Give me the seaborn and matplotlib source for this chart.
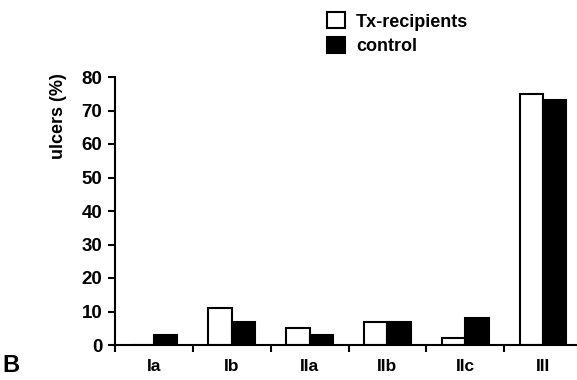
import matplotlib
matplotlib.use("Agg")
import matplotlib.pyplot as plt
import seaborn as sns
import pandas as pd
from matplotlib.patches import Patch

categories = ["Ia", "Ib", "IIa", "IIb", "IIc", "III"]
tx_values = [0, 11, 5, 7, 2, 75]
control_values = [3, 7, 3, 7, 8, 73]
series = ["Tx-recipients", "control"]
yticks = [0, 10, 20, 30, 40, 50, 60, 70, 80]

df = pd.DataFrame({
    "category": categories * 2,
    "value": tx_values + control_values,
    "group": [series[0]] * len(categories) + [series[1]] * len(categories),
})

sns.set_style("ticks")
plt.rcParams["font.family"] = ["Liberation Sans", "DejaVu Sans"]
plt.rcParams["font.weight"] = "bold"
plt.rcParams["text.color"] = "black"
plt.rcParams["xtick.color"] = "black"
plt.rcParams["ytick.color"] = "black"
plt.rcParams["axes.labelcolor"] = "black"

fig = plt.figure(figsize=(5.77, 3.80), dpi=100)
ax = fig.add_axes([115/577, 1-345/380, 467/577, 268/380])

sns.barplot(data=df, x="category", y="value", hue="group", order=categories,
            hue_order=series, palette={series[0]: "white", series[1]: "black"},
            edgecolor="black", linewidth=1.5, width=0.6, ax=ax, legend=False)

ax.set_ylim(0, 80)
ax.set_xlim(-0.5, 5.5)
ax.set_yticks(yticks)
ax.set_yticklabels([str(v) for v in yticks], fontsize=13.5, fontweight="bold")
ax.set_xticks(range(len(categories)))
ax.set_xticklabels(categories, fontsize=12.5, fontweight="bold")
ax.set_xticks([i - 0.5 for i in range(len(categories) + 1)], minor=True)
ax.tick_params(axis="x", which="major", length=0, pad=10)
ax.tick_params(axis="x", which="minor", length=5, width=1.5, direction="out")
ax.tick_params(axis="y", length=5, width=1.5, direction="out", pad=4)
ax.set_xlabel("")
ax.set_ylabel("ulcers (%)", fontsize=13, fontweight="bold")
ax.yaxis.set_label_coords(-0.103, 0.855)
for s in ["top", "right"]:
    ax.spines[s].set_visible(False)
for s in ["left", "bottom"]:
    ax.spines[s].set_linewidth(1.5)
    ax.spines[s].set_color("black")

handles = [Patch(facecolor="white", edgecolor="black", linewidth=1.5),
           Patch(facecolor="black", edgecolor="black", linewidth=1.5)]
fig.legend(handles, series, loc="upper left", bbox_to_anchor=(311/577, 1+4/380),
           frameon=False, handlelength=1.0, handleheight=1.0, handletextpad=0.6,
           labelspacing=0.35, prop={"size": 13, "weight": "bold"})

fig.text(2/577, 1-377/380, "B", fontsize=17, fontweight="bold", va="bottom", ha="left")

fig.savefig("out.png", dpi=100)
